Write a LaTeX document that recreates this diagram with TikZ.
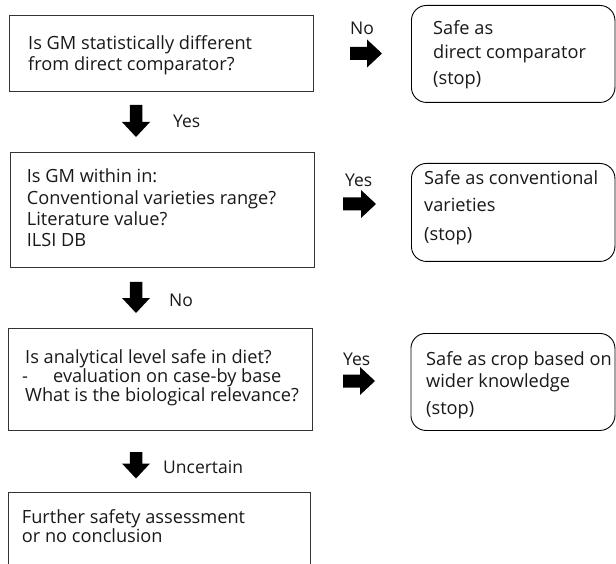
\documentclass[tikz,border=0pt]{standalone}
\usepackage{fontspec}
\setmainfont{Open Sans}
\newcommand\downblk[3]{\fill[blk] ({#1-6.25},#2) -- ({#1+6.25},#2) -- ({#1+6.25},{#3-15}) -- ({#1+14},{#3-15}) -- (#1,#3) -- ({#1-14},{#3-15}) -- ({#1-6.25},{#3-15}) -- cycle;}
\newcommand\rightblk[3]{\fill[blk] (#1,{#3-6.5}) -- ({#2-15},{#3-6.5}) -- ({#2-15},{#3-14}) -- (#2,#3) -- ({#2-15},{#3+14}) -- ({#2-15},{#3+6.5}) -- (#1,{#3+6.5}) -- cycle;}
\begin{document}
\begin{tikzpicture}[x=1pt,y=-1pt,
  box/.style={draw=black!80, line width=1.1pt, rectangle, inner sep=0pt, anchor=north west},
  rbox/.style={draw=black, line width=0.9pt, rectangle, rounded corners=15pt, inner sep=0pt, anchor=north west},
  txt/.style={anchor=base west, inner sep=0pt, font=\fontsize{18.2}{21}\selectfont, text=black!90},
  lbl/.style={anchor=base west, inner sep=0pt, font=\fontsize{17.5}{20}\selectfont, text=black!90},
  blk/.style={fill=black}]
\useasboundingbox (0,0) rectangle (616,564);
\fill[white] (0,0) rectangle (616,564);
\clip (0,0) rectangle (616,564);

% left boxes
\node[box, minimum width=303.7pt, minimum height=75.7pt] (q1) at (9.3,15) {};
\node[box, minimum width=304pt, minimum height=115pt] (q2) at (9.8,152) {};
\node[box, minimum width=303.2pt, minimum height=101.5pt] (q3) at (8.3,328) {};
\node[box, minimum width=301.7pt, minimum height=90pt] (q4) at (8.3,492) {};

% right rounded boxes
\node[rbox, minimum width=203.5pt, minimum height=97pt] (r1) at (411,5) {};
\node[rbox, minimum width=203.5pt, minimum height=98pt] (r2) at (411,163) {};
\node[rbox, minimum width=204pt, minimum height=97pt] (r3) at (410.5,333) {};

% texts of left boxes
\node[txt] (q1a) at (28,49.7) {Is GM statistically different};
\node[txt] (q1b) at (28,70.5) {from direct comparator?};
\node[txt] (q2a) at (26.7,183) {Is GM within in:};
\node[txt] (q2b) at (26.7,204.5) {Conventional varieties range?};
\node[txt] (q2c) at (26.7,225.5) {Literature value?};
\node[txt] (q2d) at (26.7,246.5) {ILSI DB};
\node[txt] (q3a) at (25,363) {Is analytical level safe in diet?};
\node[txt] (q3b) at (22,382.5) {\makebox[31pt][l]{-}evaluation on case-by base};
\node[txt] (q3c) at (25,401.5) {What is the biological relevance?};
\node[txt] (q4a) at (21.7,523) {Further safety assessment};
\node[txt] (q4b) at (21.7,542) {or no conclusion};

% texts of rounded boxes
\node[txt] (r1a) at (433,35) {Safe as};
\node[txt] (r1b) at (433,58.5) {direct comparator};
\node[txt] (r1c) at (433,85) {(stop)};
\node[txt] (r2a) at (424,185) {Safe as conventional};
\node[txt] (r2b) at (424,211.5) {varieties};
\node[txt] (r2c) at (424,240.5) {(stop)};
\node[txt] (r3a) at (426,365) {Safe as crop based on};
\node[txt] (r3b) at (426,387) {wider knowledge};
\node[txt] (r3c) at (426,414) {(stop)};

% block arrows
\downblk{136}{105}{137}
\downblk{136}{282}{313}
\downblk{136}{452}{478.5}
\rightblk{350}{382}{53.5}
\rightblk{343}{376}{204}
\rightblk{343}{375}{381}

% arrow labels
\node[lbl] (l1) at (173,128) {Yes};
\node[lbl] (l2) at (169,306.5) {No};
\node[lbl] (l3) at (163,473) {Uncertain};
\node[lbl] (l4) at (350,35) {No};
\node[lbl] (l5) at (345,186.5) {Yes};
\node[lbl] (l6) at (343,365) {Yes};
\end{tikzpicture}
\end{document}
